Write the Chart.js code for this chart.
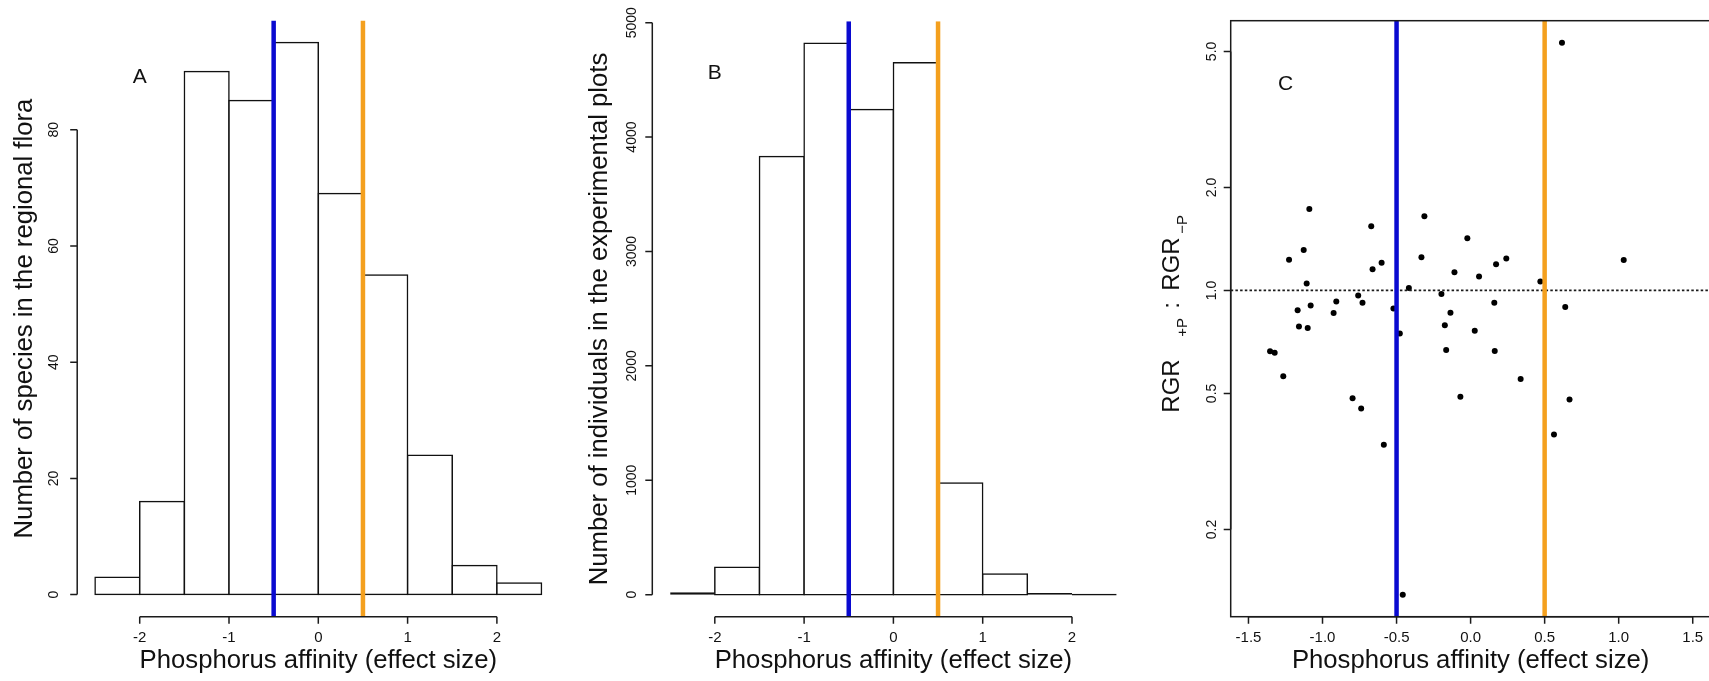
<!DOCTYPE html>
<html>
<head>
<meta charset="utf-8">
<script src="https://cdn.jsdelivr.net/npm/chart.js@4.4.1/dist/chart.umd.min.js"></script>
<style>
  html, body { margin: 0; padding: 0; background: #fff; width: 1709px; height: 681px; overflow: hidden; }
  canvas { position: absolute; left: 0; top: 0; }
</style>
</head>
<body>
<canvas id="panelA" width="1720" height="681"></canvas>
<canvas id="panelB" width="1720" height="681"></canvas>
<canvas id="panelC" width="1720" height="681"></canvas>
<script>
// histogram breaks, shared by A and B
const histBreaks = [-2.5, -2, -1.5, -1, -0.5, 0, 0.5, 1, 1.5, 2, 2.5];
// A: species in the regional flora
const speciesCounts = [3, 16, 90, 85, 95, 69, 55, 24, 5, 2];
// B: individuals in the experimental plots
const individualCounts = [20, 240, 3830, 4820, 4240, 4650, 975, 180, 15, 0];

const histTicksX = [-2, -1, 0, 1, 2];
const speciesTicksY = [0, 20, 40, 60, 80];
const individualTicksY = [0, 1000, 2000, 3000, 4000, 5000];

// C: phosphorus affinity vs RGR ratio (log axis)
const affinity = [-1.354, -1.323, -1.265, -1.226, -1.168, -1.159, -1.127, -1.107, -1.100, -1.089,
  -1.080, -0.925, -0.907, -0.797, -0.759, -0.739, -0.730, -0.671, -0.662, -0.601,
  -0.586, -0.521, -0.478, -0.458, -0.417, -0.332, -0.312, -0.197, -0.174, -0.165,
  -0.136, -0.109, -0.069, -0.022, 0.028, 0.057, 0.160, 0.163, 0.172, 0.241,
  0.338, 0.471, 0.563, 0.617, 0.639, 0.668, 1.034];
const rgrRatio = [0.664, 0.658, 0.561, 1.229, 0.876, 0.784, 1.314, 1.048, 0.777, 1.731,
  0.904, 0.859, 0.929, 0.484, 0.967, 0.452, 0.921, 1.541, 1.154, 1.205,
  0.354, 0.886, 0.748, 0.129, 1.016, 1.251, 1.648, 0.976, 0.791, 0.670,
  0.861, 1.131, 0.489, 1.422, 0.763, 1.099, 0.921, 0.665, 1.194, 1.240,
  0.551, 1.062, 0.379, 5.30, 0.894, 0.480, 1.227];
const scatterTicksX = [-1.5, -1, -0.5, 0, 0.5, 1, 1.5];
const scatterTicksY = [0.2, 0.5, 1, 2, 5];
const scatterXlim = [-1.5, 1.5];

// vertical reference lines (blue / orange)
const markerLines = [-0.5, 0.5];
const markerColors = ['#0a0ad0', '#f4a01e'];

// panel letters, in data coordinates
const panelTags = [
  { text: 'A', x: -2, y: 89 },
  { text: 'B', x: -2, y: 4560 },
  { text: 'C', x: -1.25, y: 4 }
];

const FONT = '"Liberation Sans", Arial, sans-serif';
const CANVAS_W = 1720, CANVAS_H = 681;
const TICK_LEN = 7;

// base-R style axes: axis line only over the tick range, rotated y labels
function makeAxes(cfg) {
  return {
    id: 'rAxes',
    afterDraw(chart) {
      const ctx = chart.ctx;
      const area = chart.chartArea;
      const xs = chart.scales.x, ys = chart.scales.y;
      ctx.save();
      ctx.strokeStyle = '#1b1b1b';
      ctx.fillStyle = '#111';
      ctx.lineWidth = 1.5;
      if (cfg.box) ctx.strokeRect(area.left, area.top, area.right - area.left, area.bottom - area.top);

      const xp = cfg.xTicks.map(v => xs.getPixelForValue(v));
      const yp = cfg.yTicks.map(v => ys.getPixelForValue(v));
      ctx.beginPath();
      ctx.moveTo(xp[0], area.bottom);
      ctx.lineTo(xp[xp.length - 1], area.bottom);
      xp.forEach(p => { ctx.moveTo(p, area.bottom); ctx.lineTo(p, area.bottom + TICK_LEN); });
      ctx.moveTo(area.left, yp[0]);
      ctx.lineTo(area.left, yp[yp.length - 1]);
      yp.forEach(p => { ctx.moveTo(area.left, p); ctx.lineTo(area.left - TICK_LEN, p); });
      ctx.stroke();

      ctx.textAlign = 'center';
      ctx.textBaseline = 'alphabetic';
      ctx.font = '15px ' + FONT;
      cfg.xLabels.forEach((t, i) => ctx.fillText(t, xp[i], 642));
      ctx.font = '14px ' + FONT;
      cfg.yLabels.forEach((t, i) => {
        ctx.save();
        ctx.translate(area.left - cfg.yLabelGap, yp[i]);
        ctx.rotate(-Math.PI / 2);
        ctx.fillText(t, 0, 0);
        ctx.restore();
      });

      // x title
      ctx.font = '25.7px ' + FONT;
      ctx.fillText('Phosphorus affinity (effect size)', (area.left + area.right) / 2, 668);

      // y title
      const midY = (area.top + area.bottom) / 2;
      if (cfg.yTitle) {
        ctx.save();
        ctx.translate(area.left - 45, midY);
        ctx.rotate(-Math.PI / 2);
        ctx.fillText(cfg.yTitle, 0, 0);
        ctx.restore();
      } else {
        drawRgrTitle(ctx, area.left - 52, midY + 94);
      }

      // panel letter
      ctx.font = '21px ' + FONT;
      ctx.textBaseline = 'middle';
      ctx.fillText(cfg.tag.text, xs.getPixelForValue(cfg.tag.x), ys.getPixelForValue(cfg.tag.y));
      ctx.restore();
    }
  };
}

// "RGR +P : RGR -P" with subscripts, reading bottom to top
function drawRgrTitle(ctx, baseX, startY) {
  const main = '24px ' + FONT, sub = '15px ' + FONT;
  // [text, font, subscript shift, offset along the label]
  const pieces = [
    ['RGR', main, 0, 0], ['+P', sub, 8, 76], [':', main, 0, 104],
    ['RGR', main, 0, 122], ['\u2212P', sub, 8, 179]
  ];
  ctx.save();
  ctx.translate(baseX, startY);
  ctx.rotate(-Math.PI / 2);
  ctx.textAlign = 'left';
  pieces.forEach(([txt, font, shift, at]) => {
    ctx.font = font;
    ctx.fillText(txt, at, shift);
  });
  ctx.restore();
}

function padFor(area) {
  return { left: area.left, top: area.top, right: CANVAS_W - area.right, bottom: CANVAS_H - area.bottom };
}

function markerDatasets(yMin, yMax) {
  return markerLines.map((v, i) => ({
    type: 'line',
    data: [{ x: v, y: yMin }, { x: v, y: yMax }],
    borderColor: markerColors[i],
    borderWidth: 4.5,
    pointRadius: 0,
    order: 0
  }));
}

function histogramChart(id, counts, yTicks, tag, yTitle, area, yLabelGap) {
  const top = Math.max(...counts);
  const yMin = -0.04 * top, yMax = 1.04 * top;
  const span = histBreaks[histBreaks.length - 1] - histBreaks[0];
  const xMin = histBreaks[0] - 0.04 * span, xMax = histBreaks[histBreaks.length - 1] + 0.04 * span;
  const bars = counts.map((c, i) => ({ x: (histBreaks[i] + histBreaks[i + 1]) / 2, y: c }));
  // near-empty bins collapse into a solid line on the baseline
  const isTiny = c => !(c.raw && c.raw.y > 0.01 * top);

  return new Chart(document.getElementById(id), {
    type: 'bar',
    data: {
      datasets: [
        {
          data: bars,
          backgroundColor: c => isTiny(c) ? 'rgba(255,255,255,0)' : '#ffffff',
          borderColor: '#111',
          borderWidth: 1.5,
          borderSkipped: false,
          inflateAmount: c => isTiny(c) ? 0 : 0.75,
          minBarLength: 1.6,
          barPercentage: 1,
          categoryPercentage: 1,
          order: 1
        },
        ...markerDatasets(yMin, yMax)
      ]
    },
    options: {
      responsive: false,
      animation: false,
      events: [],
      layout: { padding: padFor(area) },
      plugins: { legend: { display: false }, tooltip: { enabled: false } },
      scales: {
        x: {
          type: 'linear', min: xMin, max: xMax, offset: false, display: false,
          afterBuildTicks: s => { s.ticks = histTicksX.map(v => ({ value: v })); }
        },
        y: { type: 'linear', min: yMin, max: yMax, display: false }
      }
    },
    plugins: [makeAxes({
      xTicks: histTicksX, xLabels: histTicksX.map(String),
      yTicks: yTicks, yLabels: yTicks.map(String),
      yTitle: yTitle, yLabelGap: yLabelGap, tag: tag, box: false
    })]
  });
}

histogramChart('panelA', speciesCounts, speciesTicksY, panelTags[0],
  'Number of species in the regional flora',
  { left: 77.2, right: 559.4, top: 20.4, bottom: 616.7 }, 19);

histogramChart('panelB', individualCounts, individualTicksY, panelTags[1],
  'Number of individuals in the experimental plots',
  { left: 652.3, right: 1134.5, top: 21.2, bottom: 616.7 }, 16.3);

// panel C: scatter on a log y axis
(function () {
  const lo = Math.log10(Math.min(...rgrRatio)), hi = Math.log10(Math.max(...rgrRatio));
  const ext = 0.04 * (hi - lo);
  const yMin = Math.pow(10, lo - ext), yMax = Math.pow(10, hi + ext);
  const xExt = 0.04 * (scatterXlim[1] - scatterXlim[0]);
  const xMin = scatterXlim[0] - xExt, xMax = scatterXlim[1] + xExt;

  new Chart(document.getElementById('panelC'), {
    type: 'scatter',
    data: {
      datasets: [
        {
          data: affinity.map((x, i) => ({ x: x, y: rgrRatio[i] })),
          pointRadius: 3,
          pointBackgroundColor: '#000',
          pointBorderWidth: 0,
          order: 2
        },
        {
          data: [{ x: xMin, y: 1 }, { x: xMax, y: 1 }],
          showLine: true,
          borderColor: '#1a1a1a',
          borderWidth: 1.8,
          borderDash: [2.5, 2.2],
          pointRadius: 0,
          order: 1
        },
        ...markerDatasets(yMin, yMax).map(d => Object.assign(d, { type: 'scatter', showLine: true }))
      ]
    },
    options: {
      responsive: false,
      animation: false,
      events: [],
      layout: { padding: padFor({ left: 1230.7, right: 1710.5, top: 20.7, bottom: 616.7 }) },
      plugins: { legend: { display: false }, tooltip: { enabled: false } },
      scales: {
        x: { type: 'linear', min: xMin, max: xMax, display: false },
        y: { type: 'logarithmic', min: yMin, max: yMax, display: false }
      }
    },
    plugins: [makeAxes({
      xTicks: scatterTicksX, xLabels: scatterTicksX.map(v => v.toFixed(1)),
      yTicks: scatterTicksY, yLabels: scatterTicksY.map(v => v.toFixed(1)),
      yTitle: null, yLabelGap: 15, tag: panelTags[2], box: true
    })]
  });
})();
</script>
</body>
</html>
